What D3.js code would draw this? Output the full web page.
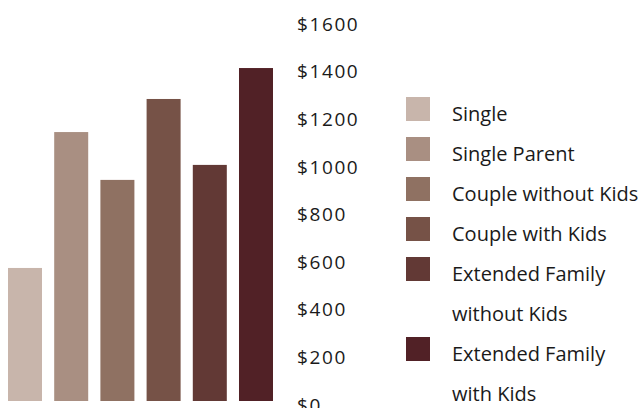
<!DOCTYPE html>
<html>
<head>
<meta charset="utf-8">
<script src="https://cdn.jsdelivr.net/npm/d3@7"></script>
<style>
  html, body { margin: 0; padding: 0; background: #fff; }
  svg { display: block; }
  .axis text { font-family: "Open Sans", sans-serif; font-size: 19px; fill: #1a1a1a; letter-spacing: 1.6px; }
  .legend text { font-family: "Open Sans", sans-serif; font-size: 20px; fill: #1a1a1a; }
</style>
</head>
<body>
<svg id="chart" width="643" height="408"></svg>
<script>
// Monthly spending by household type
const categories = ["Single", "Single Parent", "Couple without Kids", "Couple with Kids", "Extended Family without Kids", "Extended Family with Kids"];
const values = [559, 1130, 929, 1269, 992, 1399];
const colors = ["#c8b5ab", "#a98f82", "#8f7162", "#765247", "#623935", "#512126"];
const tickValues = [0, 200, 400, 600, 800, 1000, 1200, 1400, 1600];
// Legend rows: long names wrap onto a second line
const legendLines = [["Single"], ["Single Parent"], ["Couple without Kids"], ["Couple with Kids"], ["Extended Family", "without Kids"], ["Extended Family", "with Kids"]];

const svg = d3.select("#chart");

const x = d3.scaleBand()
  .domain(categories)
  .range([8, 273])
  .paddingInner(0.264)
  .paddingOuter(0);

const y = d3.scaleLinear()
  .domain([0, 1600])
  .range([401, 20.2]);

const color = d3.scaleOrdinal().domain(categories).range(colors);

// Bars
svg.append("g")
  .selectAll("rect")
  .data(categories)
  .join("rect")
  .attr("x", d => x(d))
  .attr("width", x.bandwidth())
  .attr("y", (d, i) => y(values[i]))
  .attr("height", (d, i) => y(0) - y(values[i]))
  .attr("fill", d => color(d));

// Value axis on the right of the bars
const axis = d3.axisRight(y)
  .tickValues(tickValues)
  .tickSize(0)
  .tickPadding(0)
  .tickFormat(d => "$" + d);

svg.append("g")
  .attr("class", "axis")
  .attr("transform", "translate(297,0)")
  .call(axis)
  .call(g => g.select(".domain").remove())
  .call(g => g.selectAll("text").attr("font-family", null).attr("font-size", null).attr("fill", "#1a1a1a").attr("dy", "10px"));

// Legend
const legend = svg.append("g").attr("class", "legend");
let row = 0;
legendLines.forEach((lines, i) => {
  const top = 97 + row * 40;
  legend.append("rect")
    .attr("x", 406)
    .attr("y", top)
    .attr("width", 24)
    .attr("height", 24)
    .attr("fill", colors[i]);
  lines.forEach((t, j) => {
    legend.append("text")
      .attr("x", 452)
      .attr("y", top + 24 + j * 40)
      .text(t);
  });
  row += lines.length;
});
</script>
</body>
</html>
